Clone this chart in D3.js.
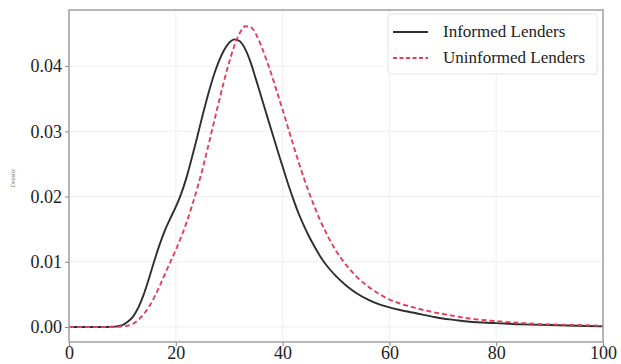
<!DOCTYPE html>
<html>
<head>
<meta charset="utf-8">
<script src="https://cdn.jsdelivr.net/npm/d3@7"></script>
<style>
  html, body { margin: 0; padding: 0; background: #fff; }
  svg text { font-family: "Liberation Serif", "DejaVu Serif", serif; }
</style>
</head>
<body>
<svg id="chart" width="621" height="364"></svg>
<script>
// Density of loan rates for the two lender groups
const xValues = [0, 2, 4, 6, 8, 9, 10, 11, 12, 13, 14, 15, 16, 17, 18, 19, 20, 21, 22, 23, 24, 25,
  26, 27, 28, 29, 30, 31, 32, 33, 34, 35, 36, 37, 38, 39, 40, 41, 42, 43, 44, 45, 46, 47, 48, 49,
  50, 52, 54, 56, 58, 60, 62, 65, 68, 70, 72, 75, 80, 85, 90, 95, 100];

const informed = [0, 0, 0, 0, 0.00003, 0.0001, 0.0003, 0.0008, 0.0016, 0.0030, 0.0050, 0.0075,
  0.0102, 0.0127, 0.0149, 0.0167, 0.0184, 0.0204, 0.0229, 0.0259, 0.0291, 0.0324,
  0.0355, 0.0383, 0.0406, 0.0424, 0.0436, 0.0441, 0.0438, 0.0426, 0.0406, 0.0380, 0.0353, 0.0326,
  0.0299, 0.0272, 0.0246, 0.0220, 0.0196, 0.0174, 0.0155, 0.0138, 0.0123, 0.0109, 0.0097, 0.0087,
  0.0078, 0.0063, 0.0051, 0.0042, 0.0035, 0.0030, 0.0026, 0.0021, 0.0016, 0.0013, 0.0011, 0.0008,
  0.0006, 0.0004, 0.0003, 0.0002, 0.0001];

const uninformed = [0, 0, 0, 0, 0, 0.00002, 0.0001, 0.0002, 0.0005, 0.0011, 0.0020, 0.0031,
  0.0046, 0.0063, 0.0082, 0.0100, 0.0118, 0.0138, 0.0160, 0.0185, 0.0212, 0.0242,
  0.0275, 0.0309, 0.0343, 0.0376, 0.0406, 0.0432, 0.0451, 0.0461, 0.0460, 0.0449, 0.0431, 0.0409,
  0.0385, 0.0359, 0.0333, 0.0306, 0.0279, 0.0253, 0.0228, 0.0205, 0.0184, 0.0164, 0.0147, 0.0131,
  0.0117, 0.0094, 0.0076, 0.0062, 0.0051, 0.0042, 0.0036, 0.0029, 0.0023, 0.0020, 0.0017, 0.0013,
  0.0009, 0.0006, 0.0004, 0.0003, 0.0002];

const xTicks = [0, 20, 40, 60, 80, 100];
const yTicks = [0, 0.01, 0.02, 0.03, 0.04];
const seriesNames = ["Informed Lenders", "Uninformed Lenders"];

const svg = d3.select("#chart");
const margin = { left: 69, right: 18, top: 10, bottom: 22 };
const W = 621, H = 364;

const x = d3.scaleLinear().domain([0, 100]).range([margin.left, W - margin.right]);
const y = d3.scaleLinear().domain([-0.0023, 0.0486]).range([H - margin.bottom, margin.top]);

// grid
const grid = svg.append("g");
grid.selectAll("line.vx").data(xTicks).join("line")
  .attr("x1", d => x(d)).attr("x2", d => x(d))
  .attr("y1", margin.top).attr("y2", H - margin.bottom)
  .attr("stroke", "#efefef").attr("stroke-width", 1);
grid.selectAll("line.hy").data(yTicks).join("line")
  .attr("x1", margin.left).attr("x2", W - margin.right)
  .attr("y1", d => y(d)).attr("y2", d => y(d))
  .attr("stroke", "#efefef").attr("stroke-width", 1);

// curves
const line = d3.line().x((d, i) => x(xValues[i])).y(d => y(d)).curve(d3.curveMonotoneX);

svg.append("path").datum(informed)
  .attr("d", line).attr("fill", "none")
  .attr("stroke", "#2e2e2e").attr("stroke-width", 1.9);

svg.append("path").datum(uninformed)
  .attr("d", line).attr("fill", "none")
  .attr("stroke", "#e0405a").attr("stroke-width", 1.9)
  .attr("stroke-dasharray", "5,3");

// axes
const xAxis = d3.axisBottom(x).tickValues(xTicks).tickFormat(d3.format("d")).tickSize(4).tickPadding(1);
const yAxis = d3.axisLeft(y).tickValues(yTicks).tickFormat(d3.format(".2f")).tickSize(4).tickPadding(3);

const gx = svg.append("g").attr("transform", `translate(0,${H - margin.bottom})`).call(xAxis);
const gy = svg.append("g").attr("transform", `translate(${margin.left},0)`).call(yAxis);
[gx, gy].forEach(g => {
  g.select(".domain").remove();
  g.selectAll(".tick line").attr("stroke", "#888");
  g.selectAll(".tick text").attr("fill", "#222").style("font-size", "18px")
    .style("font-family", "'Liberation Serif', serif");
});
gx.selectAll(".tick text").attr("dy", "0.68em");

// frame
svg.append("rect")
  .attr("x", margin.left).attr("y", margin.top)
  .attr("width", W - margin.right - margin.left)
  .attr("height", H - margin.bottom - margin.top)
  .attr("fill", "none").attr("stroke", "#a0a0a0").attr("stroke-width", 1.5);

// y label
svg.append("text")
  .attr("transform", `translate(15,178) rotate(-90)`)
  .attr("text-anchor", "middle")
  .attr("fill", "#777").style("font-size", "6px")
  .text("Density");

// legend
const lg = svg.append("g");
lg.append("rect").attr("x", 388).attr("y", 14).attr("width", 209).attr("height", 60)
  .attr("fill", "#fff").attr("fill-opacity", 0.8)
  .attr("stroke", "#e4e4e4").attr("stroke-width", 1).attr("rx", 2);
const items = [
  { name: seriesNames[0], color: "#2e2e2e", dash: null, yy: 32 },
  { name: seriesNames[1], color: "#e0405a", dash: "4,2.5", yy: 58 }
];
items.forEach(it => {
  lg.append("line").attr("x1", 393).attr("x2", 428).attr("y1", it.yy).attr("y2", it.yy)
    .attr("stroke", it.color).attr("stroke-width", 2)
    .attr("stroke-dasharray", it.dash);
  lg.append("text").attr("x", 443).attr("y", it.yy + 5)
    .attr("fill", "#222").style("font-size", "17px").text(it.name);
});
</script>
</body>
</html>
